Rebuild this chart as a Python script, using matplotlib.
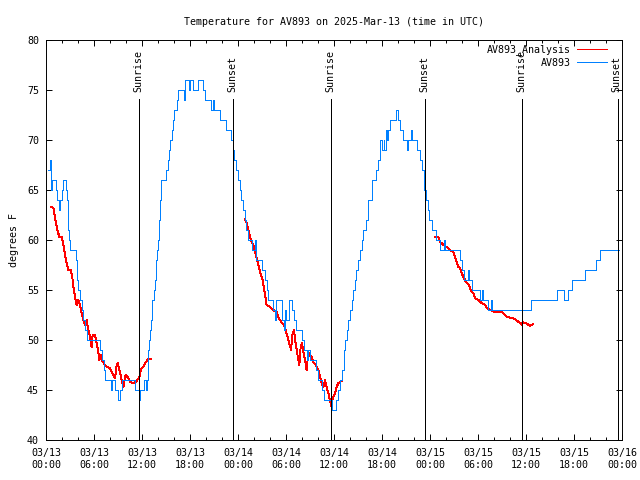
import numpy as np
import matplotlib
matplotlib.use("Agg")
import matplotlib.pyplot as plt
from matplotlib.ticker import MultipleLocator

# hours since 2025-03-13 00:00 UTC
obs_hours = [0.3, 0.45, 0.6, 0.8, 1.2, 1.4, 1.65, 1.8, 1.95, 2.1, 2.45, 2.6, 2.75, 2.8, 2.9, 3.0,
             3.75, 3.85, 3.95, 4.3, 4.45, 4.6, 4.85, 5.1, 6.75, 6.95, 7.25, 7.4, 8.1, 8.3, 8.6,
             8.95, 9.2, 9.5, 10.5, 11.1, 11.65, 11.8, 12.2, 12.45, 12.6, 12.7, 12.75, 12.9, 13.0,
             13.1, 13.2, 13.3, 13.45, 13.6, 13.7, 13.8, 13.9, 14.0, 14.1, 14.15, 14.25, 14.35,
             14.95, 15.2, 15.4, 15.55, 15.7, 15.85, 15.95, 16.4, 16.55, 17.25, 17.4, 17.85, 18.0,
             18.4, 18.95, 19.6, 19.85, 20.65, 20.85, 21.0, 21.8, 22.5, 23.15, 23.35, 23.55, 23.75,
             24.0, 24.2, 24.4, 24.65, 24.85, 25.05, 25.3, 25.7, 26.1, 26.3, 26.95, 27.4, 27.6,
             27.8, 28.4, 28.6, 28.8, 29.5, 29.7, 29.9, 30.0, 30.4, 30.7, 31.0, 31.3, 31.95, 32.2,
             32.6, 32.8, 33.0, 33.8, 34.05, 34.5, 34.7, 35.7, 36.3, 36.5, 36.75, 36.95, 37.2,
             37.4, 37.6, 37.8, 38.0, 38.2, 38.4, 38.6, 38.8, 39.05, 39.25, 39.5, 39.65, 40.05,
             40.3, 40.7, 41.3, 41.5, 41.75, 41.95, 42.2, 42.3, 42.5, 42.6, 42.8, 43.0, 43.8,
             44.05, 44.25, 44.6, 45.1, 45.3, 45.6, 45.8, 46.4, 46.75, 46.95, 47.2, 47.3, 47.5,
             47.7, 47.9, 48.2, 48.4, 48.8, 49.25, 49.75, 49.9, 51.8, 51.95, 52.2, 52.8, 52.9,
             53.1, 53.2, 54.25, 54.5, 54.65, 55.3, 55.6, 55.8, 60.6, 63.9, 64.7, 65.2, 65.7,
             67.4, 68.8, 69.25, 71.65]
obs_temps = [67, 68, 65, 66, 65, 64, 63, 64, 65, 66, 65, 64, 62, 61, 60, 59,
             58, 56, 55, 54, 53, 52, 51, 50, 49, 48, 47, 46, 45, 46, 45,
             44, 45, 46, 46, 45, 44, 45, 46, 45, 46, 47, 49, 50, 51,
             52, 53, 54, 55, 56, 57, 58, 59, 60, 61, 62, 64, 66,
             67, 68, 69, 70, 71, 72, 73, 74, 75, 74, 76, 75, 76,
             75, 76, 75, 74, 73, 74, 73, 72, 71, 70, 69, 68, 67,
             66, 65, 64, 63, 62, 61, 60, 59, 60, 58, 57, 56, 55,
             54, 53, 52, 54, 52, 51, 53, 52, 54, 53, 52, 51, 50, 49,
             48, 49, 48, 47, 46, 45, 44, 43, 44, 45, 46, 47, 49,
             50, 51, 52, 53, 54, 55, 56, 57, 58, 59, 60, 61, 62,
             64, 66, 67, 68, 70, 69, 70, 69, 71, 70, 71, 72, 73,
             72, 71, 70, 69, 70, 71, 70, 69, 68, 67, 66, 65, 64,
             63, 62, 61, 61, 60, 59, 60, 59, 58, 57, 56, 57, 56,
             56, 55, 54, 55, 54, 53, 54, 53, 54, 55, 54, 55, 56,
             57, 58, 59, 59]

ana_hours_1 = [0.63, 0.92, 1.13, 1.42, 1.67, 1.96, 2.17, 2.38, 2.58, 2.79, 3.08, 3.3, 3.42, 3.63,
               3.83, 4.04, 4.25, 4.46, 4.67, 4.88, 5.08, 5.29, 5.5, 5.7, 5.83, 6.13, 6.33, 6.54,
               6.67, 6.83, 6.96, 7.38, 7.58, 8.0, 8.2, 8.42, 8.63, 8.83, 8.96, 9.17, 9.46, 9.67,
               9.88, 10.0, 10.29, 10.5, 10.9, 11.2, 11.4, 11.67, 11.75, 11.96, 12.17, 12.38,
               12.58, 12.79, 13.08]
ana_temps_1 = [63.3, 63.2, 62.2, 61.0, 60.3, 60.3, 59.5, 58.5, 57.7, 57.0, 57.0, 56.2, 55.3, 54.3,
               53.5, 54.0, 53.5, 52.7, 52.0, 51.5, 52.0, 51.0, 50.3, 49.3, 50.5, 50.5, 49.7, 48.8,
               48.0, 48.5, 48.0, 47.5, 47.3, 47.2, 46.8, 46.5, 46.2, 47.5, 47.7, 47.0, 46.0, 45.3,
               46.3, 46.5, 46.2, 45.8, 45.7, 45.8, 46.0, 46.2, 46.7, 47.2, 47.3, 47.7,
               47.9, 48.1, 48.1]
ana_hours_2 = [24.88, 25.08, 25.29, 25.5, 25.7, 25.9, 26.1, 26.3, 26.5, 26.75, 27.08, 27.25, 27.38,
               27.58, 28.0, 28.4, 28.83, 29.04, 29.25, 29.46, 29.75, 29.96, 30.2, 30.4, 30.63,
               30.83, 31.0, 31.13, 31.33, 31.54, 31.67, 31.83, 32.0, 32.2, 32.38, 32.58, 32.7,
               32.9, 33.2, 33.4, 33.75, 34.04, 34.25, 34.46, 34.67, 34.88, 35.08, 35.29, 35.5,
               35.7, 35.83, 36.13, 36.33, 36.54, 36.75, 36.96]
ana_temps_2 = [62.1, 61.7, 61.0, 60.3, 59.8, 59.5, 59.0, 58.3, 57.7, 56.8, 56.0, 55.2, 54.5,
               53.5, 53.3, 53.0, 52.8, 52.3, 52.0, 51.7, 51.5, 51.0, 50.3, 49.7, 49.0,
               50.7, 51.0, 50.0, 49.0, 48.0, 47.5, 49.3, 49.7, 48.7, 48.0, 47.0, 48.0,
               48.7, 48.3, 47.8, 47.5, 47.0, 46.3, 45.7, 45.3, 46.0, 45.3, 44.7, 44.0,
               43.3, 44.2, 44.7, 45.3, 45.7, 45.8, 45.9]
ana_hours_3 = [48.6, 49.04, 49.25, 49.46, 49.67, 50.08, 50.5, 50.9, 51.13, 51.33, 51.54, 51.75,
               51.96, 52.17, 52.38, 52.58, 52.8, 53.0, 53.2, 53.4, 53.63, 54.04, 54.46, 54.88,
               55.08, 55.5, 56.13, 56.96, 57.38, 57.67, 58.2, 58.63, 58.9, 59.25, 59.46, 59.58,
               59.88, 60.17, 60.5, 60.9]
ana_temps_3 = [60.3, 60.3, 59.8, 59.7, 59.5, 59.3, 59.0, 58.8, 58.3, 57.8, 57.3, 57.2,
               56.7, 56.3, 56.0, 55.7, 55.6, 55.2, 54.8, 54.7, 54.2, 54.0, 53.7, 53.5,
               53.2, 53.0, 52.8, 52.8, 52.5, 52.3, 52.2, 52.1, 51.9, 51.7, 51.5, 51.8,
               51.7, 51.6, 51.4, 51.6]

sun_hours = [11.65, 23.4, 35.65, 47.4, 59.55, 71.45]
sun_labels = ['Sunrise', 'Sunset', 'Sunrise', 'Sunset', 'Sunrise', 'Sunset']

tick_hours = list(range(0, 73, 6))
tick_labels = ['03/13\n00:00', '03/13\n06:00', '03/13\n12:00', '03/13\n18:00',
               '03/14\n00:00', '03/14\n06:00', '03/14\n12:00', '03/14\n18:00',
               '03/15\n00:00', '03/15\n06:00', '03/15\n12:00', '03/15\n18:00',
               '03/16\n00:00']

plt.rcParams['font.family'] = 'DejaVu Sans Mono'
plt.rcParams['font.size'] = 7.2
plt.rcParams['lines.antialiased'] = False

fig = plt.figure(figsize=(6.4, 4.8), dpi=100)
ax = fig.add_axes([46 / 640, 40 / 480, 576 / 640, 400 / 480])

ana_h = ana_hours_1 + [np.nan] + ana_hours_2 + [np.nan] + ana_hours_3
ana_t = ana_temps_1 + [np.nan] + ana_temps_2 + [np.nan] + ana_temps_3
ax.plot(ana_h, ana_t, color='#ff0000', lw=0.7, label='AV893_Analysis')
ax.plot(obs_hours, obs_temps, color='#0080ff', lw=0.7, drawstyle='steps-post', label='AV893')

for h, lab in zip(sun_hours, sun_labels):
    ax.vlines(h, 40, 74.1, color='black', lw=0.7, zorder=4)
    ax.text(h - 0.15, 74.8, lab, rotation=90, ha='center', va='bottom', zorder=4)

ax.set_xlim(0, 72)
ax.set_ylim(40, 80)
ax.set_xticks(tick_hours)
ax.set_xticklabels(tick_labels)
ax.xaxis.set_minor_locator(MultipleLocator(2))
ax.yaxis.set_major_locator(MultipleLocator(5))
ax.tick_params(which='both', direction='in', top=True, right=True)
ax.tick_params(which='major', length=4, width=0.7)
ax.tick_params(which='minor', length=2.2, width=0.7)
ax.tick_params(axis='x', pad=6)
ax.tick_params(axis='y', pad=5)
for s in ax.spines.values():
    s.set_linewidth(0.7)

ax.set_title('Temperature for AV893 on 2025-Mar-13 (time in UTC)', fontsize=7.2, pad=11)
ax.set_ylabel('degrees F', labelpad=6)

ax.legend(loc='upper right', frameon=False, markerfirst=False, handlelength=3.0,
          handletextpad=0.7, borderaxespad=0.2, labelspacing=0.3,
          bbox_to_anchor=(0.985, 1.005))

fig.savefig('out.png', dpi=100)
